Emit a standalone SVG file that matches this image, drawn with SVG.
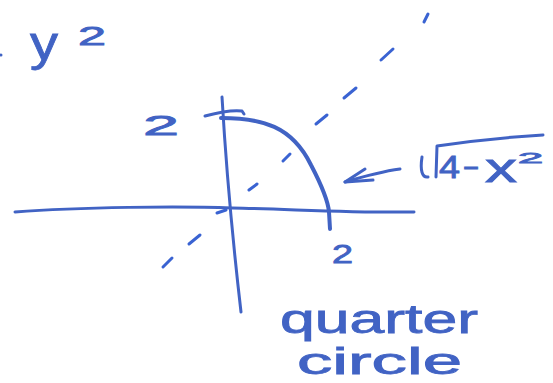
<svg xmlns="http://www.w3.org/2000/svg" width="553" height="383" viewBox="0 0 553 383">
<style>
.ink{fill:none;stroke:#4163c4;stroke-linecap:round;stroke-linejoin:round}
.ax{stroke-width:3}
.dash{stroke-width:3;stroke:#3a63d2}
.t{fill:#4163c4;stroke:#4163c4;stroke-width:0.8;font-family:"Liberation Sans",Arial,sans-serif}
</style>
<rect width="553" height="383" fill="#ffffff"/>
<g id="axes">
<path class="ink ax" d="M15,212 C80,207 180,206 232,208 C290,209 350,213 414,212"/>
<path class="ink ax" d="M222,97 Q228,200 241,312"/>
<path class="ink ax" d="M205,116 C220,112 235,110 242,111 L244,114"/>
</g>
<g id="diagonal-dashes">
<path class="ink dash" d="M163,267 L172,258"/>
<path class="ink dash" d="M189,244 L200,235"/>
<path class="ink dash" d="M217,213 L226,210"/>
<path class="ink dash" d="M249,190 L257,184"/>
<path class="ink dash" d="M283,161 L290,154"/>
<path class="ink dash" d="M316,124 L327,115"/>
<path class="ink dash" d="M344,98 L356,88"/>
<path class="ink dash" d="M381,60 L393,49"/>
<path class="ink dash" d="M424,22 L428,14"/>
</g>
<g id="quarter-circle">
<path class="ink" stroke-width="4" d="M221,118 C262,118 292,126 311,165 C322,186 328,200 329,212 L330,229"/>
</g>
<g id="arrow">
<path class="ink ax" d="M400,169 C385,171 365,176 345,182"/>
<path class="ink ax" d="M365,169 L345,182 L373,180"/>
</g>
<g id="formula">
<path class="ink ax" d="M422,157 C420,170 422,178 428,177"/>
<path class="ink ax" d="M436,177 L437,146 C470,141 510,137 543,135"/>
<text class="t" x="439" y="178" font-size="31" textLength="21" lengthAdjust="spacingAndGlyphs">4</text>
<text class="t" x="463" y="178" font-size="30" textLength="16" lengthAdjust="spacingAndGlyphs">−</text>
<text class="t" x="485" y="182" font-size="40" textLength="32" lengthAdjust="spacingAndGlyphs">x</text>
<text class="t" x="518" y="163" font-size="14" textLength="25" lengthAdjust="spacingAndGlyphs">2</text>
</g>
<g id="labels">
<circle cx="1" cy="55" r="1.5" fill="#4163c4"/>
<text class="t" x="30" y="60" font-size="48" textLength="28" lengthAdjust="spacingAndGlyphs">y</text>
<text class="t" x="78" y="45" font-size="25" textLength="28" lengthAdjust="spacingAndGlyphs">2</text>
<text class="t" x="143" y="135" font-size="28" textLength="36" lengthAdjust="spacingAndGlyphs">2</text>
<text class="t" x="332" y="263" font-size="25" textLength="21" lengthAdjust="spacingAndGlyphs">2</text>
<text class="t" x="280" y="333" font-size="40" textLength="198" lengthAdjust="spacingAndGlyphs">quarter</text>
<text class="t" x="297" y="374" font-size="36" textLength="165" lengthAdjust="spacingAndGlyphs">circle</text>
</g>
</svg>
